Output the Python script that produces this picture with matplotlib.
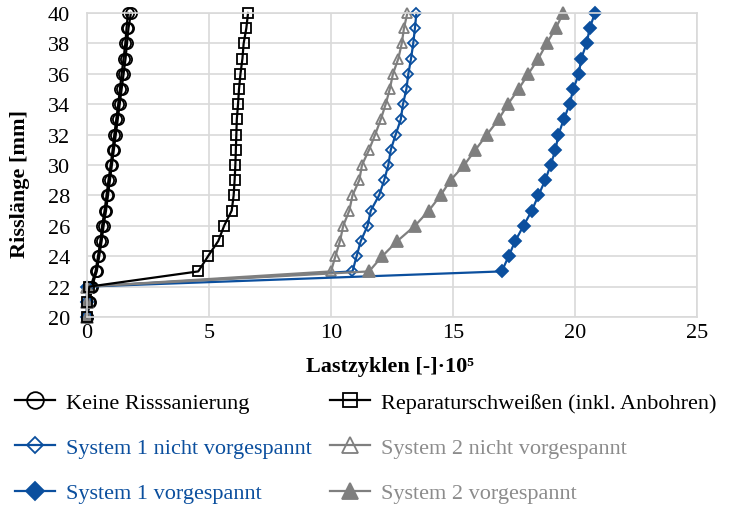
import matplotlib
matplotlib.use("Agg")
import matplotlib.pyplot as plt

# ---- data ----
crack_mm = [20, 21, 22, 23, 24, 25, 26, 27, 28, 29, 30,
            31, 32, 33, 34, 35, 36, 37, 38, 39, 40]

keine_a = [0.0, 0.1, 0.15, 0.35, 0.45, 0.55, 0.62, 0.72, 0.8, 0.88, 0.97,
           1.05, 1.12, 1.2, 1.28, 1.35, 1.42, 1.5, 1.57, 1.62, 1.68]
keine_b = [0.0, 0.12, 0.2, 0.4, 0.5, 0.6, 0.68, 0.78, 0.86, 0.94, 1.02,
           1.1, 1.18, 1.26, 1.34, 1.42, 1.5, 1.58, 1.64, 1.7, 1.8]
reparatur = [0.0, 0.0, 0.1, 4.56, 4.96, 5.38, 5.62, 5.93, 6.01, 6.05, 6.08,
             6.1, 6.12, 6.14, 6.19, 6.23, 6.29, 6.37, 6.42, 6.53, 6.6]
sys1_nicht = [0.0, 0.0, 0.0, 10.88, 11.05, 11.22, 11.5, 11.63, 11.97, 12.18, 12.35,
              12.45, 12.65, 12.86, 12.95, 13.09, 13.17, 13.28, 13.37, 13.44, 13.5]
sys2_nicht = [0.0, 0.0, 0.0, 10.0, 10.18, 10.37, 10.5, 10.75, 10.88, 11.16, 11.27,
              11.56, 11.81, 12.04, 12.24, 12.41, 12.54, 12.76, 12.9, 12.99, 13.13]
sys1_vor = [0.0, 0.0, 0.0, 17.0, 17.28, 17.55, 17.89, 18.23, 18.5, 18.78, 19.0,
            19.2, 19.32, 19.54, 19.78, 19.93, 20.16, 20.25, 20.48, 20.6, 20.82]
sys2_vor = [0.0, 0.0, 0.0, 11.56, 12.1, 12.72, 13.44, 14.01, 14.49, 14.9, 15.46,
            15.92, 16.39, 16.87, 17.25, 17.69, 18.09, 18.5, 18.84, 19.21, 19.52]

x_ticks = [0, 5, 10, 15, 20, 25]
y_ticks = [20, 22, 24, 26, 28, 30, 32, 34, 36, 38, 40]

labels = ["Keine Risssanierung", "Reparaturschweißen (inkl. Anbohren)",
          "System 1 nicht vorgespannt", "System 2 nicht vorgespannt",
          "System 1 vorgespannt", "System 2 vorgespannt"]

BLUE = "#0b4f9e"
GREY = "#7f7f7f"
GREY_TXT = "#8c8c8c"

plt.rcParams["font.family"] = ["Liberation Serif", "DejaVu Serif"]

fig = plt.figure(figsize=(7.29, 5.10), dpi=100)
ax = fig.add_axes([87 / 729, 1 - 318 / 510, 610 / 729, 304 / 510])

lw = 1.6
mew = 1.3
common = dict(clip_on=False)
h_keine, = ax.plot(keine_a, crack_mm, color="black", lw=lw, marker="o", ms=8,
                   mfc="none", mec="black", mew=mew, label=labels[0], **common)
ax.plot(keine_b, crack_mm, color="black", lw=lw, marker="o", ms=8,
        mfc="none", mec="black", mew=mew, **common)
h_s1n, = ax.plot(sys1_nicht, crack_mm, color=BLUE, lw=lw, marker="D", ms=5.5,
                 mfc="none", mec=BLUE, mew=mew, label=labels[2], **common)
h_s2n, = ax.plot(sys2_nicht, crack_mm, color=GREY, lw=lw, marker="^", ms=7.5,
                 mfc="none", mec=GREY, mew=mew, label=labels[3], **common)
h_s1v, = ax.plot(sys1_vor, crack_mm, color=BLUE, lw=lw, marker="D", ms=6,
                 mfc=BLUE, mec=BLUE, mew=mew, label=labels[4], **common)
h_s2v, = ax.plot(sys2_vor, crack_mm, color=GREY, lw=lw, marker="^", ms=8,
                 mfc=GREY, mec=GREY, mew=mew, label=labels[5], **common)
h_rep, = ax.plot(reparatur, crack_mm, color="black", lw=lw, marker="s", ms=7,
                 mfc="none", mec="black", mew=mew, label=labels[1], **common)

ax.set_xlim(0, 25)
ax.set_ylim(20, 40)
ax.set_xticks(x_ticks)
ax.set_yticks(y_ticks)
ax.grid(True, color="#d9d9d9", lw=1.2)
ax.set_axisbelow(True)
for s in ax.spines.values():
    s.set_color("#d9d9d9")
    s.set_linewidth(1.2)
ax.tick_params(length=0, labelsize=16)
ax.tick_params(axis="y", pad=12)
ax.tick_params(axis="x", pad=4)

ax.set_xlabel("Lastzyklen [-]·10⁵", fontsize=16, fontweight="bold")
ax.xaxis.set_label_coords(0.497, -0.128)
ax.set_ylabel("Risslänge [mm]", fontsize=16, fontweight="bold")
ax.yaxis.set_label_coords(-0.093, 0.44)

handles = [h_keine, h_s1n, h_s1v, h_rep, h_s2n, h_s2v]
leg_labels = [labels[0], labels[2], labels[4], labels[1], labels[3], labels[5]]
leg = fig.legend(handles, leg_labels, loc="upper left",
                 bbox_to_anchor=(15 / 729, 1 - 393 / 510), ncol=2,
                 frameon=False, fontsize=16, handlelength=1.8,
                 handletextpad=0.5, columnspacing=0.8, labelspacing=1.12,
                 borderpad=0, borderaxespad=0, markerscale=1.5)
txt_colors = ["black", BLUE, BLUE, "black", GREY_TXT, GREY_TXT]
for t, c in zip(leg.get_texts(), txt_colors):
    t.set_color(c)

fig.savefig("out.png", dpi=100)
